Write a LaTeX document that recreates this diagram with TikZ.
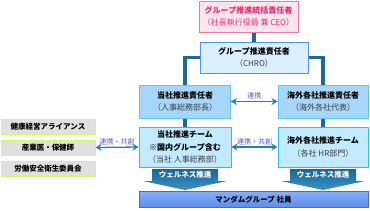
\documentclass[tikz,border=0pt]{standalone}
\usepackage{fontspec}
\setmainfont{Noto Sans CJK JP}
\usetikzlibrary{arrows.meta}

\definecolor{ceoline}{HTML}{F07AA8}
\definecolor{ceofill}{HTML}{FFE4EE}
\definecolor{ceotext}{HTML}{E2306C}
\definecolor{chroline}{HTML}{4D94F0}
\definecolor{chrofill}{HTML}{DCEFFF}
\definecolor{headline}{HTML}{5CC6F5}
\definecolor{headfill}{HTML}{A6D6FA}
\definecolor{teamline}{HTML}{33BBF0}
\definecolor{teamfill}{HTML}{C2EBFF}
\definecolor{partline}{HTML}{CCFF66}
\definecolor{partfill}{HTML}{E0E0E0}
\definecolor{linkcol}{HTML}{1B6A99}
\definecolor{arrowcol}{HTML}{2A7FA8}
\definecolor{lblcol}{HTML}{4A5CD6}
\definecolor{wellA}{HTML}{1A6597}
\definecolor{wellB}{HTML}{3A93C8}
\definecolor{staffA}{HTML}{86AEF8}
\definecolor{staffB}{HTML}{5C8CEB}
\definecolor{staffline}{HTML}{3A6BE8}

\tikzset{
  box/.style={draw, line width=1pt, align=center, inner sep=0pt,
    font=\fontsize{8}{12.5}\selectfont},
  partbox/.style={box, draw=partline, fill=partfill, minimum width=94pt,
    minimum height=15pt, font=\fontsize{7.5}{9}\selectfont\bfseries},
  link/.style={linkcol, line width=3.5pt},
  both/.style={arrowcol, line width=1.3pt, {Stealth[length=6pt,width=7pt]}-{Stealth[length=6pt,width=7pt]}},
  lbl/.style={lblcol, font=\fontsize{7}{8}\selectfont, inner sep=1.5pt},
  welltext/.style={white, font=\fontsize{7.5}{9}\selectfont\bfseries},
}

\begin{document}
\begin{tikzpicture}[x=1pt,y=-1pt]
    \useasboundingbox (0,0) rectangle (370,210);
    % management
    \node[box, draw=ceoline, fill=ceofill, text=ceotext, minimum width=99pt, minimum height=31pt] (ceo) at (248.5,16.5)
        {\textbf{グループ推進統括責任者}\\（社長執行役員 兼 CEO）};
    \node[box, draw=chroline, fill=chrofill, minimum width=108pt, minimum height=31pt] (chro) at (254,57.5)
        {\textbf{グループ推進責任者}\\{\color{black!75}（CHRO）}};
    \node[box, draw=headline, fill=headfill, minimum width=91pt, minimum height=33pt] (dom) at (185,101.5)
        {\textbf{当社推進責任者}\\{\color{black!75}（人事総務部長）}};
    \node[box, draw=headline, fill=headfill, minimum width=90pt, minimum height=33pt] (ovs) at (323,101.5)
        {\textbf{海外各社推進責任者}\\{\color{black!75}（海外各社代表）}};
    % teams
    \node[box, draw=teamline, fill=teamfill, minimum width=92pt, minimum height=40pt] (domteam) at (185,147)
        {\textbf{当社推進チーム}\\\textbf{※国内グループ含む}\\{\color{black!75}（当社 人事総務部）}};
    \node[box, draw=teamline, fill=teamfill, minimum width=90pt, minimum height=40pt] (ovsteam) at (323,147)
        {\textbf{海外各社推進チーム}\\{\color{black!75}（各社 HR部門）}};
    % partners
    \node[partbox] (alliance) at (48,126.5) {健康経営アライアンス};
    \node[partbox] (doctor) at (48,147.5) {産業医・保健師};
    \node[partbox] (safety) at (48,168.5) {労働安全衛生委員会};
    % employees
    \node[box, draw=staffline, top color=staffA, bottom color=staffB, minimum width=229pt, minimum height=16pt,
        font=\fontsize{7.5}{9}\selectfont\bfseries] (staff) at (253.5,199.5) {マンダムグループ 社員};

    \draw[link] (chro.north) -- (chro.north |- ceo.south);
    \draw[link] (chro.west) -- (dom.north |- chro.west) -- (dom.north);
    \draw[link] (chro.east) -- (ovs.north |- chro.east) -- (ovs.north);
    \draw[link] (dom.south) -- (dom.south |- domteam.north);
    \draw[link] (ovs.south) -- (ovs.south |- ovsteam.north);

    \draw[both] (dom.east) -- (ovs.west) node[midway, above, lbl] {連携};
    \draw[both] (doctor.east) -- (domteam.west) node[midway, above, lbl] {連携・共創};
    \draw[both] (domteam.east) -- (ovsteam.west) node[midway, above, lbl] {連携・共創};

    % wellness arrows
    \shade[top color=wellA, bottom color=wellB] (152,169) -- (218,169) -- (218,181) -- (227,181)
        -- (185,190) -- (143,181) -- (152,181) -- cycle;
    \node[welltext] (wellL) at (185,175) {ウェルネス推進};
    \shade[top color=wellA, bottom color=wellB] (290,169) -- (356,169) -- (356,181) -- (365,181)
        -- (323,190) -- (281,181) -- (290,181) -- cycle;
    \node[welltext] (wellR) at (323,175) {ウェルネス推進};
\end{tikzpicture}
\end{document}
